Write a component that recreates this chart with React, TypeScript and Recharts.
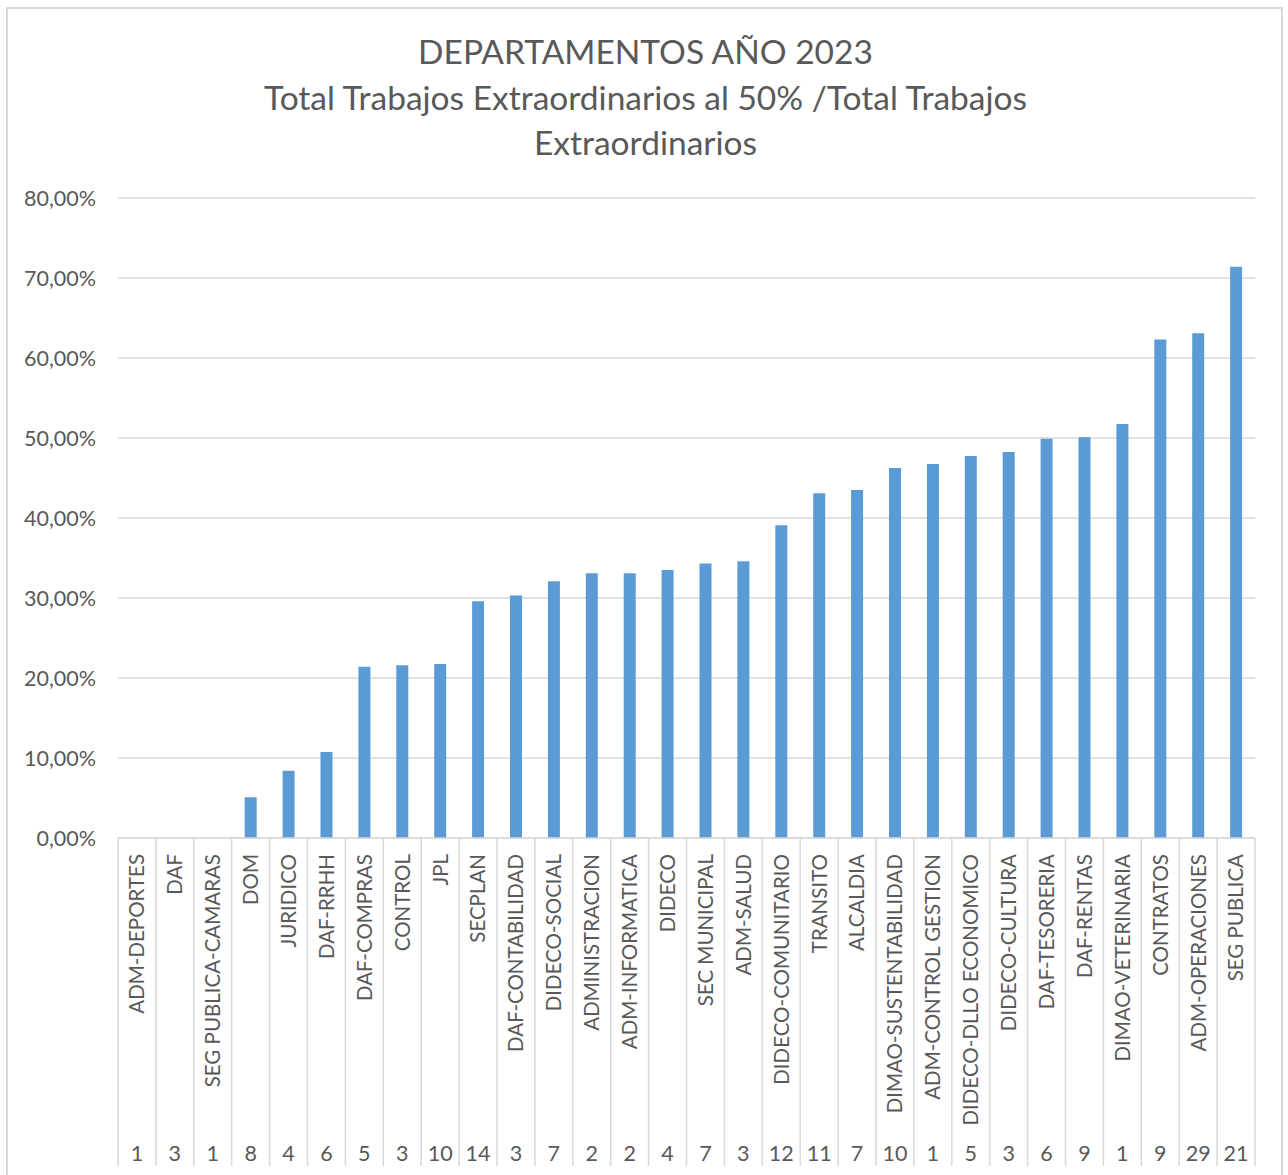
import React from 'react';
import { BarChart, Bar, XAxis, YAxis, CartesianGrid } from 'recharts';

const departments = [
  'ADM-DEPORTES', 'DAF', 'SEG PUBLICA-CAMARAS', 'DOM', 'JURIDICO', 'DAF-RRHH', 'DAF-COMPRAS',
  'CONTROL', 'JPL', 'SECPLAN', 'DAF-CONTABILIDAD', 'DIDECO-SOCIAL', 'ADMINISTRACION',
  'ADM-INFORMATICA', 'DIDECO', 'SEC MUNICIPAL', 'ADM-SALUD', 'DIDECO-COMUNITARIO', 'TRANSITO',
  'ALCALDIA', 'DIMAO-SUSTENTABILIDAD', 'ADM-CONTROL GESTION', 'DIDECO-DLLO ECONOMICO',
  'DIDECO-CULTURA', 'DAF-TESORERIA', 'DAF-RENTAS', 'DIMAO-VETERINARIA', 'CONTRATOS',
  'ADM-OPERACIONES', 'SEG PUBLICA',
];

const percentValues = [
  0, 0, 0, 5.1, 8.4, 10.75, 21.4, 21.6, 21.75, 29.6, 30.3, 32.1, 33.1, 33.1, 33.5, 34.3, 34.6,
  39.1, 43.1, 43.5, 46.25, 46.75, 47.75, 48.25, 49.9, 50.1, 51.75, 62.3, 63.1, 71.4,
];

const counts = [1, 3, 1, 8, 4, 6, 5, 3, 10, 14, 3, 7, 2, 2, 4, 7, 3, 12, 11, 7, 10, 1, 5, 3, 6, 9, 1, 9, 29, 21];

const yTicks = [0, 10, 20, 30, 40, 50, 60, 70, 80];

const titleLines = [
  'DEPARTAMENTOS AÑO 2023',
  'Total Trabajos Extraordinarios al 50% /Total Trabajos',
  'Extraordinarios',
];

const data = departments.map((name, i) => ({ name, value: percentValues[i], count: counts[i] }));

const TEXT = '#595959';
const GRID = '#d9d9d9';
const FONT = 'Lato, "Open Sans", sans-serif';

const formatPct = (v: number) => v.toFixed(2).replace('.', ',') + '%';

const CategoryTick = (props: any) => {
  const { x, y, payload, index } = props;
  const half = payload && typeof payload.offset === 'number' && payload.offset > 0 ? payload.offset : 18.95;
  const bottom = 1166;
  const item = data[index] || data.find((d) => d.name === payload.value);
  return (
    <g>
      <line x1={x - half} y1={y} x2={x - half} y2={bottom} stroke={GRID} strokeWidth={1.5} />
      {index === data.length - 1 && (
        <line x1={x + half} y1={y} x2={x + half} y2={bottom} stroke={GRID} strokeWidth={1.5} />
      )}
      <text
        x={x}
        y={y + 16}
        transform={`rotate(-90, ${x}, ${y + 16})`}
        textAnchor="end"
        dy="0.36em"
        fill={TEXT}
        fontSize={20.5}
        fontFamily={FONT}
      >
        {payload.value}
      </text>
      <text x={x} y={y + 315} textAnchor="middle" dy="0.36em" fill={TEXT} fontSize={21.5} fontFamily={FONT}>
        {item ? item.count : ''}
      </text>
    </g>
  );
};

export default function App() {
  return (
    <div style={{ position: 'absolute', left: 0, top: 0, width: 1288, height: 1175, background: '#fff' }}>
      <div
        style={{
          position: 'absolute',
          left: 6,
          top: 7,
          width: 1277,
          height: 1180,
          border: `2px solid ${GRID}`,
          boxSizing: 'border-box',
        }}
      />
      <div
        style={{
          position: 'absolute',
          left: 0,
          top: 29,
          width: 1291,
          textAlign: 'center',
          color: TEXT,
          fontFamily: FONT,
          fontSize: 33.5,
          lineHeight: '45.5px',
        }}
      >
        {titleLines.map((t, i) => (
          <div key={i}>{t}</div>
        ))}
      </div>
      <div style={{ position: 'absolute', left: 0, top: 0 }}>
        <BarChart width={1288} height={1175} data={data} margin={{ top: 198, right: 33, bottom: 0, left: 0 }} barSize={12}>
          <CartesianGrid vertical={false} stroke={GRID} strokeWidth={1.5} />
          <YAxis
            width={118}
            domain={[0, 80]}
            ticks={yTicks}
            interval={0}
            axisLine={false}
            tickLine={false}
            tickSize={0}
            tickMargin={22}
            tickFormatter={formatPct}
            tick={{ fill: TEXT, fontSize: 21.5, fontFamily: FONT }}
          />
          <XAxis
            dataKey="name"
            interval={0}
            height={337}
            tickLine={false}
            tickSize={0}
            tickMargin={0}
            axisLine={{ stroke: GRID, strokeWidth: 1.5 }}
            tick={<CategoryTick />}
          />
          <Bar dataKey="value" fill="#5b9bd5" isAnimationActive={false} />
        </BarChart>
      </div>
    </div>
  );
}
